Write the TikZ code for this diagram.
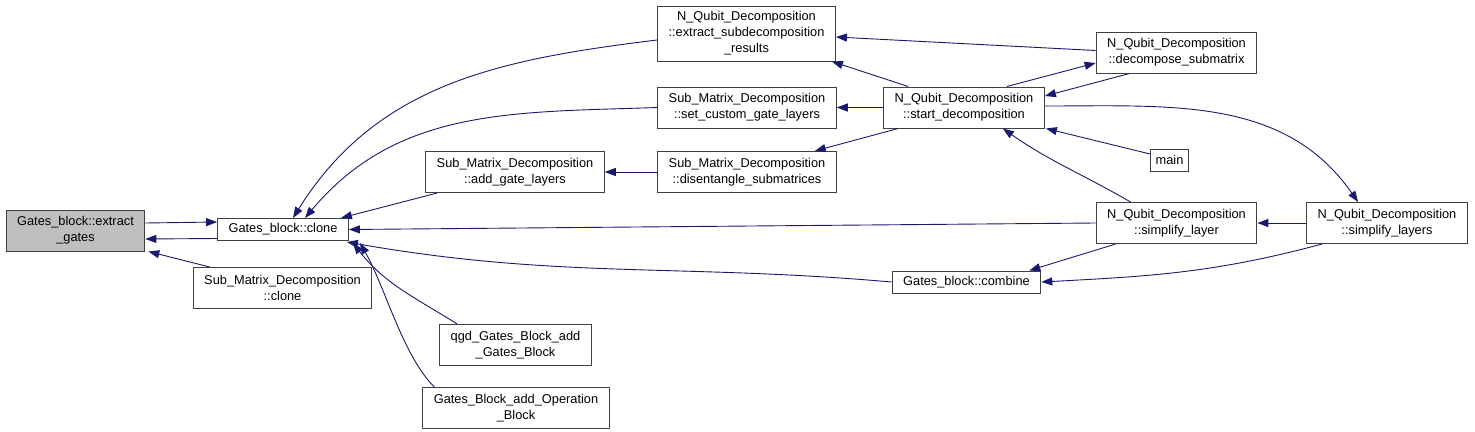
\documentclass[tikz,border=0pt]{standalone}
\usepackage{fontspec}
\setmainfont{Liberation Sans}
\usetikzlibrary{arrows.meta}
\definecolor{edgeblue}{HTML}{191970}
\definecolor{boxgray}{HTML}{404040}
\definecolor{rootgray}{HTML}{BFBFBF}
\tikzset{fn/.style={draw=boxgray, line width=1pt, fill=white, inner xsep=11pt, inner ysep=1pt, minimum height=22pt, align=center, font=\fontsize{12.8}{16}\selectfont}}
\tikzset{fntwo/.style={fn, minimum height=41pt}, fnthree/.style={fn, minimum height=55pt}}
\tikzset{call/.style={edgeblue, line width=0.9pt, -{Triangle[length=11pt,width=8pt]}}}

\begin{document}
\begin{tikzpicture}[x=1pt,y=-1pt]
\useasboundingbox (0,0) rectangle (1475,431);
\node[fntwo, fill=rootgray] (egates) at (75.5,230.5) {Gates\_block::extract\\\_gates};
\node[fn] (clone) at (283,229.5) {Gates\_block::clone};
\node[fntwo] (smdclone) at (282.5,288) {Sub\_Matrix\_Decomposition\\::clone};
\node[fnthree] (esr) at (746.5,33.5) {N\_Qubit\_Decomposition\\::extract\_subdecomposition\\\_results};
\node[fntwo] (scgl) at (747,107.5) {Sub\_Matrix\_Decomposition\\::set\_custom\_gate\_layers};
\node[fntwo] (agl) at (515,172) {Sub\_Matrix\_Decomposition\\::add\_gate\_layers};
\node[fntwo] (dis) at (747,172) {Sub\_Matrix\_Decomposition\\::disentangle\_submatrices};
\node[fntwo] (start) at (964,107.5) {N\_Qubit\_Decomposition\\::start\_decomposition};
\node[fntwo] (decomp) at (1176.5,52.5) {N\_Qubit\_Decomposition\\::decompose\_submatrix};
\node[fn, inner xsep=5pt] (main) at (1169.5,160) {main};
\node[fntwo] (sl) at (1176.5,223) {N\_Qubit\_Decomposition\\::simplify\_layer};
\node[fntwo] (sls) at (1387,223) {N\_Qubit\_Decomposition\\::simplify\_layers};
\node[fn] (combine) at (966.5,282) {Gates\_block::combine};
\node[fntwo] (qgd) at (515.5,345) {qgd\_Gates\_Block\_add\\\_Gates\_Block};
\node[fntwo] (gbaob) at (516,408) {Gates\_Block\_add\_Operation\\\_Block};

\draw[call] ([yshift=7.5pt]egates.east) -- ([yshift=7.5pt]clone.west);
\draw[call] ([yshift=-9pt]clone.west) -- ([yshift=-8.5pt]egates.east);
\draw[call] ([xshift=17pt]smdclone.north west) -- ([xshift=3pt]egates.south east);
\draw[call] ([yshift=-6.5pt]esr.west) to[out=187, in=58] ([xshift=10pt]clone.north);
\draw[call] (scgl.west) to[out=182, in=50] ([xshift=22pt]clone.north);
\draw[call] ([xshift=12pt]agl.south west) -- ([xshift=-8pt]clone.north east);
\draw[call] (sl.west) -- (clone.east);
\draw[call] (combine.west) to[out=175, in=-10] ([xshift=-2pt,yshift=-1pt]clone.south east);
\draw[call] ([xshift=18pt]qgd.north west) to[out=148, in=-52] ([xshift=4pt,yshift=-2pt]clone.south east);
\draw[call] ([xshift=12pt]gbaob.north west) .. controls +(225:45) and +(60:50) .. ([xshift=11pt,yshift=-2pt]clone.south east);
\draw[call] (dis.west) -- (agl.east);
\draw[call] ([xshift=25pt]start.north west) -- ([xshift=-4pt]esr.south east);
\draw[call] ([yshift=2pt]decomp.west) -- ([yshift=-3.5pt]esr.east);
\draw[call] (start.west) -- (scgl.east);
\draw[call] ([xshift=15pt]start.south west) -- ([xshift=-22pt]dis.north east);
\draw[call] ([xshift=-38pt]start.north east) -- ([yshift=-10.5pt]decomp.west);
\draw[call] ([xshift=-47pt]decomp.south) -- ([yshift=11.5pt]start.east);
\draw[call] ([yshift=6pt]main.west) -- ([xshift=1pt]start.south east);
\draw[call] ([xshift=35pt]sl.north west) to[out=150, in=-35] ([xshift=-42pt]start.south east);
\draw[call] ([yshift=1.5pt]start.east) to[out=0, in=125] ([xshift=52pt]sls.north west);
\draw[call] (sls.west) -- (sl.east);
\draw[call] ([xshift=20pt]sl.south west) -- ([xshift=-12pt]combine.north east);
\draw[call] ([xshift=16pt]sls.south west) to[out=195, in=3] (combine.east);
\end{tikzpicture}
\end{document}
